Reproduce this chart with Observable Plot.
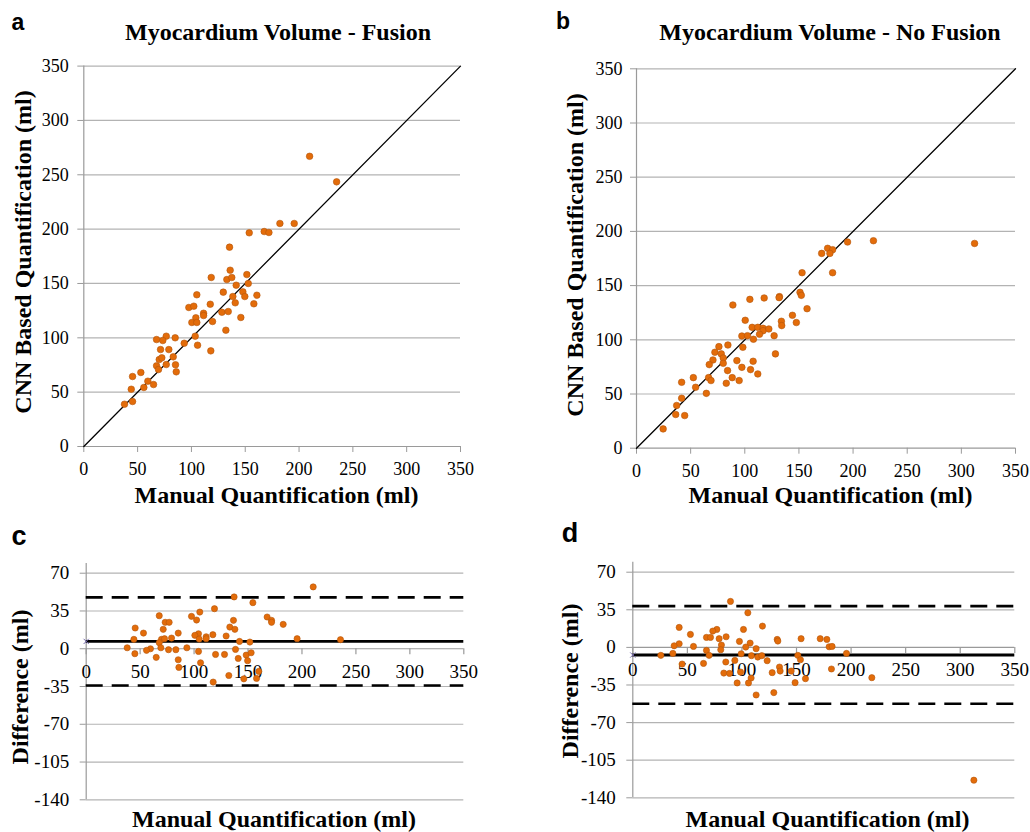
<!DOCTYPE html>
<html><head><meta charset="utf-8">
<script src="https://cdn.jsdelivr.net/npm/d3@7"></script>
<script src="https://cdn.jsdelivr.net/npm/@observablehq/plot@0.6"></script>
<style>
body{margin:0;background:#fff;}
#fig{position:relative;width:1030px;height:832px;overflow:hidden;font-family:"Liberation Serif","Times New Roman",serif;color:#000;}
.abs{position:absolute;white-space:nowrap;line-height:1;transform:translate(-50%,-50%);}
.rot{transform:translate(-50%,-50%) rotate(-90deg);}
.letter{font-family:"Liberation Sans",Arial,sans-serif;font-weight:bold;}
.title,.axlab{font-weight:bold;font-size:24px;}
.panel{position:absolute;}
</style></head><body><div id="fig"></div>
<script>
// ---- tick labels ----
const scatterTicks = [0, 50, 100, 150, 200, 250, 300, 350];
const diffTicks = [-140, -105, -70, -35, 0, 35, 70];
const identityLine = [0, 350];

// ---- panel a: Fusion (manual vs CNN) ----
const fusionManual = [209.8,234.9,135.4,153.7,167.6,172,182.2,195.5,136,118.4,132.9,137.5,151.5,152.8,141.6,105,129.6,147.8,138.5,149.6,160.8,
  97.6,102.2,117.5,140.7,158,104.1,111.3,111.3,100.4,105,119.6,128.3,134.2,145.9,132,103.5,105.7,118,93.3,84.9,76.6,67.6,73.4,71.3,79,70.1,72.5,83.1,67.6,76.6,85.2,69.4,85.9,45.3,53,44.1,55.8,59.5,64.8,37.8,45.3];
const fusionCNN = [267,243.5,183.4,196.6,197.8,196.9,205.2,205.2,162.2,155.5,153.6,155.5,158.2,150,148.4,139.6,142,142.3,138,138,139.2,
  127.9,129.1,130.9,132.2,131.3,118.4,122.6,120.5,114.1,114.1,115,123.5,124.2,118.7,107,101.5,93.2,88,95,100,101.5,98.4,97.5,89.2,89.2,80,81.6,82.5,74.2,75.4,75.2,70.8,68.7,64.4,68.1,52.7,54.3,60.1,57,38.9,41.4];

// ---- panel b: No Fusion (manual vs CNN) ----
const noFusionManual = [312.2,218.8,194.9,176.5,181.1,178.6,171,152.9,181.1,
  151,152.2,132,131.7,117.9,104.7,89,157.5,144,147.6,133.8,134.1,100.4,106.8,112,116.9,116.9,122.2,113.6,127.1,97.3,102.5,108,98.2,84.4,76.1,72.4,78.3,80.1,70.6,67.2,80.1,92.7,107.7,128.3,84.1,97.3,105.3,112,66.6,68.8,88.4,94.8,82.9,52.5,41.7,54.6,64.5,41.7,37.1,36.2,44.5,24.6];
const noFusionCNN = [188.9,191.4,190.2,184.4,183.1,179.7,179.7,161.9,161.9,
  143.8,141,139.8,138.9,138.6,137.3,132.1,128.7,122.6,115.9,117.1,113.1,118,111.5,111.5,110.6,108.4,110,105.1,103.8,103.5,103.8,100.5,93.1,95.2,93.7,88.5,87,83.2,81.4,77.1,78.3,80.8,80.2,87,71.6,74.6,72.5,68.5,65.1,62.4,65.1,62.4,59.9,65.1,60.8,56.2,50.6,46.1,39.4,31.1,30.1,17.8];

// ---- panel c: Fusion Bland-Altman ----
const fusionBAManual = [210.4,137.1,154.5,105.3,118.9,67.7,97.6,102.3,136.5,73.2,76.9,167.7,171.8,171.8,182.6,45.4,71.4,133.1,137.8,53.1,85.3,104.1,100.7,117.4,111.2,129.7,44.2,69.8,72.6,79.1,104.7,111.2,142.1,151.7,195.5,235.7,67.7,38,59.6,69.2,55.9,76.3,83.1,93.3,104.1,138.4,45.1,119.9,128.2,148.3,152.9,64.9,85.3,140.9,149.6,106,85.9,132.2,146.1,157.9,160,117.7];
const fusionBADiff = [57.3,48,42.7,34,37.1,30.6,30,26.6,26.3,24.5,24.5,29.4,26.3,24.5,22.6,19.2,18,20.1,18,14.5,14.5,13.9,12.4,13,11.1,11.8,8.7,8.7,9.3,9.9,9,9.3,6.8,6.2,9.3,8.4,5.6,0.9,0,0.9,-1.5,-0.9,-0.9,0.9,-2.5,-0.6,-4.6,-5.3,-5.3,-5.9,-3.7,-8,-10.2,-9,-11.1,-13,-17.3,-24.8,-27.9,-27.5,-21,-30.9];
const fusionMean = 6.8, fusionUpper = 47.6, fusionLower = -34;

// ---- panel d: No Fusion Bland-Altman ----
const noFusionBAManual = [89.5,105.4,42.5,77,73.3,101.4,118.8,52.8,67.5,71.2,85.5,79.1,97.7,107.5,132.3,132.9,154.2,171.7,177.8,42.5,37.9,55.6,81.2,103.5,179.9,182.6,67.5,80.6,113,36.7,25.7,69.9,99.3,108.7,114.5,118.2,151.2,153.6,195.8,45.2,64.8,85.2,93.5,123.1,134.4,135,145.1,182,83.4,88.6,98.7,108.4,127.7,95.6,106,148.7,158.2,219,113,129.2,312.5];
const noFusionBADiff = [42.8,32.2,18.6,16.7,15.2,16.7,19.8,12.1,9.3,9.3,9.9,8.1,5.6,4,7.4,5.9,8.1,8.1,7.4,3.4,1.5,0.9,2.2,0.3,0.6,0.9,-2.8,-2.2,-1.2,-5.6,-7.4,-7.4,-5.9,-7.7,-9,-7.7,-7.4,-11.5,-5.6,-15.5,-14.9,-13.6,-12.1,-12.4,-18.3,-22,-22,-20.1,-23.9,-24.2,-22.9,-28.5,-23.5,-33.1,-33.1,-32.8,-29.1,-28.2,-44.3,-42.1,-123.6];
const noFusionMean = -7.1, noFusionUpper = 38.4, noFusionLower = -52.4;

const ORANGE = "#e36c0a", ORANGE_EDGE = "#b4560c";
const GRID = "#b3b3b3", AXIS = "#9a9a9a";
const FONT = "'Liberation Serif', 'Times New Roman', serif";
const fig = document.getElementById("fig");

function addText(txt, cls, cx, cy, size) {
  const d = document.createElement("div");
  d.className = "abs " + cls;
  d.textContent = txt;
  d.style.left = cx + "px"; d.style.top = cy + "px";
  if (size) d.style.fontSize = size + "px";
  fig.appendChild(d);
}
function place(svg, left, top) {
  const w = document.createElement("div");
  w.className = "panel"; w.style.left = left + "px"; w.style.top = top + "px";
  w.appendChild(svg); fig.appendChild(w);
}

function scatter(xs, ys, m, padY) {
  const data = xs.map((x, i) => ({x, y: ys[i]}));
  return Plot.plot({
    width: 515, height: 490,
    marginLeft: m[0], marginRight: m[1], marginTop: m[2], marginBottom: m[3],
    x: {domain: [0, 350]}, y: {domain: [0, 350]},
    style: {fontFamily: FONT, fontSize: "18px", background: "transparent", color: "black", overflow: "visible"},
    marks: [
      Plot.gridY(scatterTicks.filter(d => d > 0), {stroke: GRID, strokeOpacity: 1, strokeWidth: 1.2}),
      Plot.axisY(scatterTicks, {tickSize: 6, tickPadding: padY, stroke: AXIS, fill: "black", label: null, fontSize: 18, tickFormat: d => String(d)}),
      Plot.axisX(scatterTicks, {tickSize: 6, tickPadding: 10, stroke: AXIS, fill: "black", label: null, fontSize: 18, tickFormat: d => String(d)}),
      Plot.ruleY([0], {stroke: AXIS, strokeWidth: 1.2}),
      Plot.ruleX([0], {stroke: AXIS, strokeWidth: 1.2}),
      Plot.line(identityLine, {x: d => d, y: d => d, stroke: "black", strokeWidth: 1.3}),
      Plot.dot(data, {x: "x", y: "y", r: 3.3, fill: ORANGE, stroke: ORANGE_EDGE, strokeWidth: 0.6})
    ]
  });
}

function bland(xs, ds, mean, upper, lower, m, yTop) {
  const data = xs.map((x, i) => ({x, d: ds[i]}));
  return Plot.plot({
    width: 515, height: 312,
    marginLeft: m[0], marginRight: m[1], marginTop: m[2], marginBottom: m[3],
    x: {domain: [0, 350], axis: null}, y: {domain: [-140, yTop]},
    style: {fontFamily: FONT, fontSize: "19px", background: "transparent", color: "black", overflow: "visible"},
    marks: [
      Plot.gridY(diffTicks.filter(d => d !== 0), {stroke: GRID, strokeOpacity: 1, strokeWidth: 1.2}),
      Plot.axisY(diffTicks, {tickSize: 6, tickPadding: 11, stroke: AXIS, fill: "black", label: null, fontSize: 19, tickFormat: d => String(d)}),
      Plot.ruleX([0], {stroke: AXIS, strokeWidth: 1.2}),
      Plot.ruleY([0], {stroke: AXIS, strokeWidth: 1.2}),
      Plot.ruleX(scatterTicks, {x: d => d, y1: 0, y2: 0, insetBottom: -6, stroke: AXIS, strokeWidth: 1.2}),
      Plot.text(scatterTicks, {x: d => d, y: 0, text: d => String(d), dy: 23, fontSize: 19, fill: "black"}),
      Plot.ruleY([upper, lower], {y: d => d, x1: 0, x2: 350, stroke: "black", strokeWidth: 2.6, strokeDasharray: "17,9"}),
      Plot.ruleY([mean], {y: d => d, x1: 0, x2: 350, stroke: "black", strokeWidth: 2.8}),
      Plot.dot(data, {x: "x", y: "d", r: 3.1, fill: ORANGE, stroke: ORANGE_EDGE, strokeWidth: 0.6}),
      Plot.dot([mean], {x: () => 0, y: d => d, symbol: "times", r: 2.5, stroke: "#7a6fb0", strokeWidth: 1})
    ]
  });
}

place(scatter(fusionManual, fusionCNN, [83.3, 55, 65.6, 44], 9), 0, 0);
place(scatter(noFusionManual, noFusionCNN, [121, 15, 68.3, 42.3], 8), 515, 0);
place(bland(fusionBAManual, fusionBADiff, fusionMean, fusionUpper, fusionLower, [85.7, 51.7, 43, 32.7], 79), 0, 520);
place(bland(noFusionBAManual, noFusionBADiff, noFusionMean, noFusionUpper, noFusionLower, [117.3, 15.7, 41.7, 34.7], 79.3), 515, 520);

// panel letters
addText("a", "letter", 18, 22, 23);
addText("b", "letter", 563, 21, 23);
addText("c", "letter", 19, 536, 27);
addText("d", "letter", 570, 533, 27);
// titles
addText("Myocardium Volume - Fusion", "title", 278, 32);
addText("Myocardium Volume - No Fusion", "title", 830, 32);
// axis labels
addText("Manual Quantification (ml)", "axlab", 276.5, 495);
addText("Manual Quantification (ml)", "axlab", 830.5, 495);
addText("Manual Quantification (ml)", "axlab", 274, 819);
addText("Manual Quantification (ml)", "axlab", 827.5, 819);
addText("CNN Based Quantification (ml)", "axlab rot", 23, 252);
addText("CNN Based Quantification (ml)", "axlab rot", 575, 255);
addText("Difference (ml)", "axlab rot", 20, 687);
addText("Difference (ml)", "axlab rot", 570, 681);
</script></body></html>
